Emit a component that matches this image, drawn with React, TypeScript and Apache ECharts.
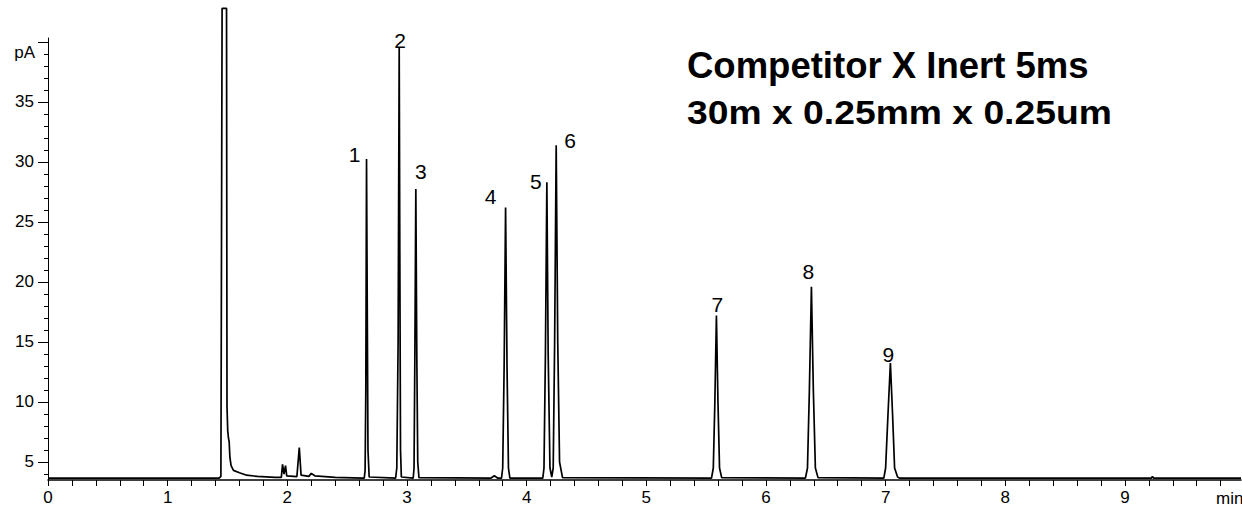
import React, { useEffect, useRef } from 'react';
import * as echarts from 'echarts';

// Chromatogram trace, [time (min), signal (pA)]
const solventTrace: [number, number][] = [
  [0, 3.65], [1.43, 3.65], [1.445, 3.8], [1.455, 42.8], [1.492, 42.8], [1.496, 9.6],
  [1.502, 7.6], [1.508, 7.0], [1.514, 6.7], [1.52, 5.4], [1.53, 4.7], [1.55, 4.3],
  [1.6, 4.1], [1.66, 3.9], [1.75, 3.8], [1.9, 3.72],
];
const minorTrace: [number, number][] = [
  [1.95, 3.72], [1.96, 4.8], [1.972, 4.0], [1.985, 4.7], [1.995, 3.85], [2.08, 3.78],
  [2.1, 6.2], [2.115, 3.9], [2.18, 3.8], [2.2, 4.05], [2.23, 3.85], [2.4, 3.72], [2.63, 3.65],
];
const peaks1to3: [number, number][] = [
  [2.643, 3.65], [2.65, 4.3], [2.656, 11], [2.662, 30.25], [2.668, 18], [2.674, 6], [2.684, 3.75],
  [2.905, 3.65], [2.915, 4.5], [2.926, 15], [2.935, 39.5], [2.941, 20], [2.946, 6], [2.953, 3.75],
  [3.052, 3.65], [3.059, 4.5], [3.066, 14], [3.074, 27.75], [3.082, 14], [3.09, 5], [3.1, 3.7],
  [3.7, 3.65], [3.73, 3.85], [3.76, 3.65],
];
const peaks4to6: [number, number][] = [
  [3.79, 3.65], [3.8, 4.5], [3.812, 13], [3.824, 26.2], [3.836, 13], [3.848, 4.5], [3.86, 3.65],
  [4.135, 3.65], [4.145, 4.5], [4.157, 14], [4.169, 28.3], [4.18, 14], [4.195, 4.5], [4.21, 3.75],
  [4.222, 4.5], [4.234, 15], [4.247, 31.4], [4.26, 15], [4.275, 5], [4.3, 3.7],
];
const peaks7to9: [number, number][] = [
  [5.545, 3.65], [5.56, 4.5], [5.573, 10], [5.586, 17.2], [5.599, 10], [5.612, 4.5], [5.63, 3.7],
  [6.33, 3.65], [6.347, 4.5], [6.363, 11], [6.38, 19.6], [6.396, 11], [6.413, 4.5], [6.435, 3.7],
  [6.985, 3.65], [7.0, 4.5], [7.02, 9], [7.04, 13.25], [7.058, 9], [7.075, 4.5], [7.1, 3.75], [7.12, 3.65],
  [9.22, 3.65], [9.23, 3.8], [9.24, 3.65], [9.97, 3.65],
];

const peakNames = ['1', '2', '3', '4', '5', '6', '7', '8', '9'];
const peakTimes = [2.662, 2.935, 3.074, 3.824, 4.169, 4.247, 5.586, 6.38, 7.04];
const peakHeights = [30.25, 39.5, 27.75, 26.2, 28.3, 31.4, 17.2, 19.6, 13.25];

const xLabels = [0, 1, 2, 3, 4, 5, 6, 7, 8, 9];
const yLabels = [5, 10, 15, 20, 25, 30, 35];
const yMajorTicks = [5, 10, 15, 20, 25, 30, 35, 40];

const titleLine1 = 'Competitor X Inert 5ms';
const titleLine2 = '30m x 0.25mm x 0.25um';
const yUnit = 'pA';
const xUnit = 'min';

// label placement (style only)
const labelOffsets: [number, number][] = [
  [-12, -4], [1, -7], [5, -17], [-15, -11], [-11, -1], [14, -5], [1, -11], [-3, -15], [-2, -8],
];

const FONT = '"Liberation Sans", Arial, sans-serif';

export default function App() {
  const ref = useRef<HTMLDivElement>(null);
  useEffect(() => {
    if (!ref.current) return;
    const chart = echarts.init(ref.current, undefined, { renderer: 'svg' });
    const trace = [...solventTrace, ...minorTrace, ...peaks1to3, ...peaks4to6, ...peaks7to9];
    const xTicks: number[] = [];
    for (let i = 0; i <= 49; i++) xTicks.push(Math.round(i * 20) / 100);
    const yMinor: number[] = [];
    for (let v = 4; v <= 40; v++) if (v % 5 !== 0) yMinor.push(v);

    chart.setOption({
      animation: false,
      backgroundColor: '#ffffff',
      textStyle: { fontFamily: FONT },
      grid: { left: 48, right: 1, top: 38, bottom: 30, containLabel: false },
      xAxis: {
        type: 'value',
        min: 0,
        max: 9.97,
        axisLine: { show: true, lineStyle: { color: '#000', width: 1.5 } },
        axisTick: { show: true, customValues: xTicks, length: 6, lineStyle: { color: '#000', width: 1 } },
        axisLabel: { customValues: xLabels, color: '#000', fontSize: 17, margin: 9, fontFamily: FONT },
        splitLine: { show: false },
      },
      yAxis: [
        {
          type: 'value',
          min: 3.5,
          max: 40.33,
          axisLine: { show: true, lineStyle: { color: '#000', width: 1 } },
          axisTick: { show: true, customValues: yMajorTicks, length: 10, lineStyle: { color: '#000', width: 1 } },
          axisLabel: { customValues: yLabels, color: '#000', fontSize: 17, margin: 14, fontFamily: FONT },
          splitLine: { show: false },
        },
        {
          type: 'value',
          min: 3.5,
          max: 40.33,
          position: 'left',
          axisLine: { show: false },
          axisTick: { show: true, customValues: yMinor, length: 4, lineStyle: { color: '#000', width: 1 } },
          axisLabel: { show: false },
          splitLine: { show: false },
        },
      ],
      series: [
        {
          type: 'line',
          data: trace,
          yAxisIndex: 0,
          clip: false,
          showSymbol: false,
          symbol: 'none',
          lineStyle: { color: '#000', width: 1.7 },
          silent: true,
          markPoint: {
            symbol: 'circle',
            symbolSize: 0,
            silent: true,
            data: peakNames.map((n, i) => ({
              name: n,
              coord: [peakTimes[i], peakHeights[i]],
              label: {
                show: true,
                position: 'inside',
                offset: labelOffsets[i],
                formatter: n,
                color: '#000',
                fontSize: 21,
                fontFamily: FONT,
              },
            })),
          },
        },
      ],
      graphic: [
        {
          type: 'text',
          x: 687,
          y: 65,
          style: { text: titleLine1, fill: '#000', font: `bold 36.5px ${FONT}`, verticalAlign: 'middle', align: 'left' },
        },
        {
          type: 'text',
          x: 687,
          y: 112,
          scaleX: 1.13,
          style: { text: titleLine2, fill: '#000', font: `bold 33px ${FONT}`, verticalAlign: 'middle', align: 'left' },
        },
        {
          type: 'text',
          x: 35,
          y: 52,
          style: { text: yUnit, fill: '#000', font: `17px ${FONT}`, verticalAlign: 'middle', align: 'right' },
        },
        {
          type: 'text',
          x: 1216,
          y: 498,
          style: { text: xUnit, fill: '#000', font: `17px ${FONT}`, verticalAlign: 'middle', align: 'left' },
        },
      ],
    });
    return () => chart.dispose();
  }, []);
  return <div ref={ref} style={{ position: 'fixed', left: 0, top: 0, width: 1242, height: 510 }} />;
}
